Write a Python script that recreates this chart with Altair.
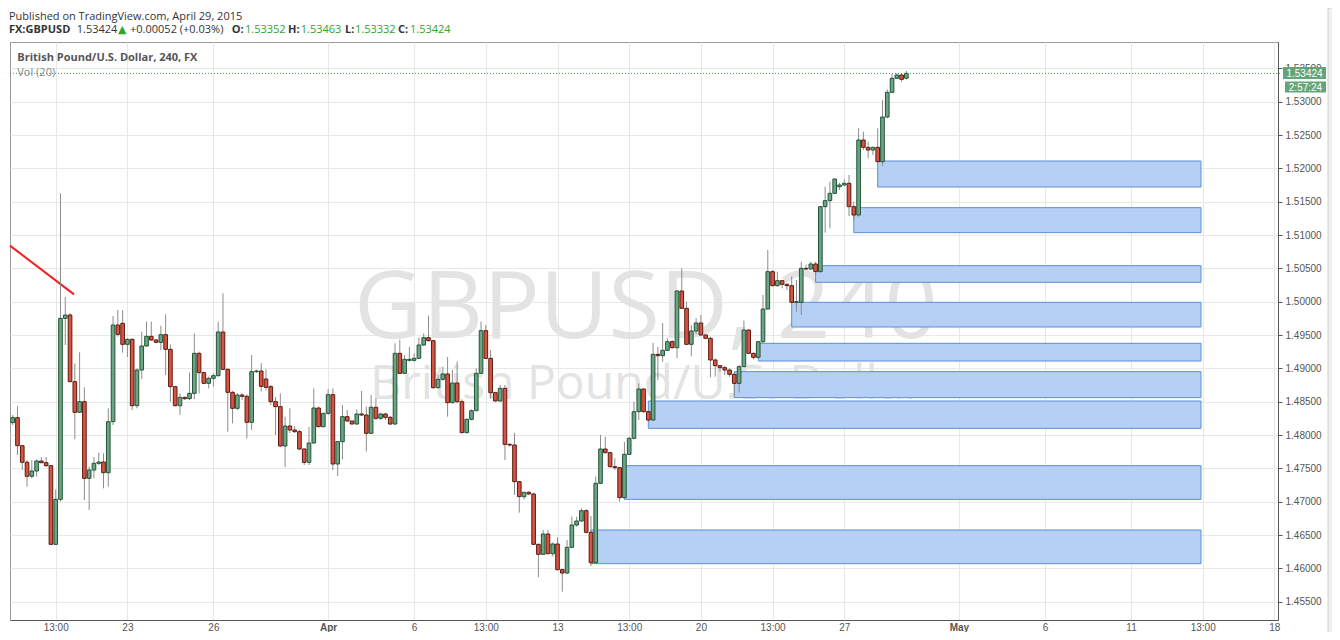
import altair as alt
import pandas as pd

# ---- 4h OHLC bars, GBPUSD (bar index 0 = first bar on chart) ----
opens = [
    1.48185, 1.48260, 1.47840, 1.47591, 1.47381, 1.47460, 1.47610, 1.47585, 1.47540, 1.46360,
    1.47035, 1.49750, 1.49800, 1.48800, 1.48340, 1.48500, 1.47350, 1.47475, 1.47575, 1.47595,
    1.47435, 1.48200, 1.49650, 1.49675, 1.49360, 1.49435, 1.48440, 1.48975, 1.49335, 1.49480,
    1.49425, 1.49390, 1.49505, 1.49285, 1.48725, 1.48440, 1.48565, 1.48545, 1.48625, 1.49225,
    1.48935, 1.48775, 1.48850, 1.48890, 1.49545, 1.48985, 1.48640, 1.48400, 1.48600, 1.48580,
    1.48190, 1.48950, 1.48960, 1.48840, 1.48725, 1.48500, 1.48425, 1.47835, 1.48135, 1.48075,
    1.48050, 1.47790, 1.47590, 1.47880, 1.48405, 1.48125, 1.48325, 1.48605, 1.47565, 1.47900,
    1.48275, 1.48210, 1.48165, 1.48315, 1.48300, 1.48025, 1.48415, 1.48250, 1.48315, 1.48265,
    1.48165, 1.49225, 1.48925, 1.49120, 1.49120, 1.49150, 1.49350, 1.49460, 1.49415, 1.48710,
    1.48835, 1.48915, 1.48485, 1.48780, 1.48500, 1.48035, 1.48235, 1.48365, 1.48925, 1.49565,
    1.49150, 1.48635, 1.48510, 1.48700, 1.47860, 1.47850, 1.47300, 1.47075, 1.47140, 1.47115,
    1.46360, 1.46210, 1.46515, 1.46220, 1.46365, 1.45980, 1.45930, 1.46315, 1.46650, 1.46710,
    1.46865, 1.46540, 1.46085, 1.47275, 1.47790, 1.47735, 1.47525, 1.47510, 1.47060, 1.47710,
    1.47950, 1.48350, 1.48690, 1.48350, 1.48225, 1.49210, 1.49190, 1.49270, 1.49400, 1.49310,
    1.50160, 1.49900, 1.49360, 1.49560, 1.49680, 1.49500, 1.49450, 1.49125, 1.49040, 1.49010,
    1.48975, 1.48910, 1.48775, 1.49025, 1.49575, 1.49225, 1.49165, 1.49400, 1.49890, 1.50450,
    1.50240, 1.50315, 1.50260, 1.50240, 1.49990, 1.49990, 1.50500, 1.50490, 1.50565, 1.50450,
    1.51425, 1.51515, 1.51625, 1.51725, 1.51750, 1.51775, 1.51425, 1.51300, 1.52425, 1.52315,
    1.52275, 1.52315, 1.52100, 1.52770, 1.53140, 1.53350, 1.53400, 1.53352,
]
highs = [
    1.48300, 1.48435, 1.47850, 1.47625, 1.47625, 1.47635, 1.47670, 1.47670, 1.47550, 1.47185,
    1.51625, 1.50070, 1.49830, 1.49075, 1.49240, 1.48715, 1.47525, 1.47670, 1.47735, 1.47725,
    1.48400, 1.49785, 1.49875, 1.49875, 1.49450, 1.49450, 1.49000, 1.49550, 1.49700, 1.49700,
    1.49440, 1.49640, 1.49810, 1.49360, 1.48735, 1.48625, 1.48575, 1.48940, 1.49525, 1.49250,
    1.48950, 1.48875, 1.48925, 1.49700, 1.50125, 1.49000, 1.48660, 1.48630, 1.48625, 1.48610,
    1.49200, 1.48980, 1.49080, 1.48985, 1.48750, 1.48570, 1.48625, 1.48275, 1.48400, 1.48135,
    1.48080, 1.47800, 1.48120, 1.48700, 1.48425, 1.48330, 1.48690, 1.48700, 1.47910, 1.48450,
    1.48375, 1.48210, 1.48385, 1.48660, 1.48425, 1.48600, 1.48550, 1.48335, 1.48335, 1.48285,
    1.49375, 1.49430, 1.49200, 1.49320, 1.49225, 1.49465, 1.49525, 1.49790, 1.49425, 1.48900,
    1.49025, 1.49170, 1.48975, 1.49100, 1.48535, 1.48250, 1.48385, 1.49000, 1.49700, 1.49650,
    1.49275, 1.48650, 1.48750, 1.48750, 1.47875, 1.48030, 1.47310, 1.47150, 1.47160, 1.47135,
    1.46370, 1.46575, 1.46575, 1.46390, 1.46465, 1.45995, 1.46425, 1.46775, 1.46775, 1.46900,
    1.46885, 1.46785, 1.47375, 1.48000, 1.47975, 1.47750, 1.47650, 1.47525, 1.47900, 1.47975,
    1.48500, 1.48775, 1.48700, 1.48365, 1.49380, 1.49325, 1.49680, 1.49450, 1.49425, 1.50175,
    1.50500, 1.50000, 1.49650, 1.49755, 1.49800, 1.49510, 1.49475, 1.49150, 1.49050, 1.49035,
    1.49000, 1.48925, 1.49050, 1.49715, 1.49585, 1.49235, 1.49405, 1.50100, 1.50775, 1.50475,
    1.50450, 1.50325, 1.50275, 1.50375, 1.50325, 1.50600, 1.50555, 1.50600, 1.50600, 1.51435,
    1.51725, 1.51800, 1.51850, 1.51785, 1.51835, 1.51900, 1.51500, 1.52600, 1.52550, 1.52400,
    1.52325, 1.52600, 1.53025, 1.53185, 1.53415, 1.53425, 1.53425, 1.53463,
]
lows = [
    1.48150, 1.47700, 1.47475, 1.47225, 1.47350, 1.47375, 1.47575, 1.47520, 1.46350, 1.46350,
    1.47000, 1.49350, 1.48790, 1.47935, 1.48330, 1.47025, 1.46875, 1.47350, 1.47550, 1.47200,
    1.47225, 1.48150, 1.49475, 1.49235, 1.49170, 1.48375, 1.48400, 1.48840, 1.49325, 1.49410,
    1.49375, 1.49275, 1.48900, 1.48500, 1.48425, 1.48300, 1.48525, 1.48525, 1.48535, 1.48625,
    1.48765, 1.48700, 1.48725, 1.48875, 1.48975, 1.48050, 1.48175, 1.48375, 1.48525, 1.47950,
    1.48075, 1.48930, 1.48650, 1.48670, 1.48450, 1.48000, 1.47825, 1.47520, 1.48030, 1.48030,
    1.47775, 1.47550, 1.47550, 1.47870, 1.48115, 1.48115, 1.48300, 1.47475, 1.47385, 1.47635,
    1.48200, 1.48160, 1.48155, 1.48285, 1.47750, 1.48015, 1.48225, 1.48225, 1.48225, 1.48150,
    1.48150, 1.48915, 1.48915, 1.49100, 1.49100, 1.49140, 1.49340, 1.49400, 1.48695, 1.48700,
    1.48815, 1.48275, 1.48475, 1.48475, 1.48025, 1.48025, 1.48220, 1.48360, 1.48915, 1.49140,
    1.48550, 1.48500, 1.48500, 1.47625, 1.47825, 1.47100, 1.46835, 1.47035, 1.47100, 1.46350,
    1.45865, 1.46200, 1.46210, 1.46180, 1.45970, 1.45650, 1.45915, 1.46300, 1.46625, 1.46700,
    1.46525, 1.46035, 1.46075, 1.47265, 1.47725, 1.47510, 1.47475, 1.47000, 1.47035, 1.47700,
    1.47935, 1.48225, 1.48335, 1.48200, 1.48215, 1.48825, 1.49100, 1.49260, 1.49295, 1.49150,
    1.49890, 1.49350, 1.49180, 1.49510, 1.49490, 1.49440, 1.48865, 1.48875, 1.48950, 1.48900,
    1.48875, 1.48590, 1.48635, 1.49020, 1.49215, 1.49135, 1.49150, 1.49380, 1.49880, 1.50225,
    1.50225, 1.50200, 1.50175, 1.49975, 1.49850, 1.49800, 1.50475, 1.50475, 1.50440, 1.50440,
    1.51035, 1.51100, 1.51610, 1.51675, 1.51735, 1.51285, 1.51235, 1.51275, 1.52275, 1.52150,
    1.52200, 1.52085, 1.52035, 1.52750, 1.53125, 1.53340, 1.53300, 1.53332,
]
closes = [
    1.48260, 1.47840, 1.47591, 1.47381, 1.47460, 1.47610, 1.47585, 1.47540, 1.46360, 1.47035,
    1.49750, 1.49800, 1.48800, 1.48340, 1.48500, 1.47350, 1.47475, 1.47575, 1.47595, 1.47435,
    1.48200, 1.49650, 1.49510, 1.49360, 1.49435, 1.48440, 1.48975, 1.49335, 1.49480, 1.49425,
    1.49390, 1.49505, 1.49285, 1.48725, 1.48440, 1.48565, 1.48545, 1.48625, 1.49225, 1.48935,
    1.48775, 1.48850, 1.48890, 1.49545, 1.48985, 1.48640, 1.48400, 1.48600, 1.48580, 1.48190,
    1.48950, 1.48960, 1.48730, 1.48715, 1.48500, 1.48425, 1.47835, 1.48135, 1.48075, 1.48050,
    1.47790, 1.47590, 1.47880, 1.48405, 1.48125, 1.48325, 1.48605, 1.47565, 1.47900, 1.48275,
    1.48210, 1.48165, 1.48315, 1.48300, 1.48025, 1.48415, 1.48250, 1.48315, 1.48265, 1.48165,
    1.49225, 1.48925, 1.49135, 1.49135, 1.49150, 1.49350, 1.49460, 1.49415, 1.48710, 1.48835,
    1.48915, 1.48485, 1.48780, 1.48500, 1.48035, 1.48235, 1.48365, 1.48925, 1.49565, 1.49150,
    1.48635, 1.48510, 1.48700, 1.47860, 1.47850, 1.47300, 1.47075, 1.47140, 1.47115, 1.46360,
    1.46210, 1.46515, 1.46220, 1.46365, 1.45980, 1.45930, 1.46315, 1.46650, 1.46710, 1.46865,
    1.46540, 1.46085, 1.47275, 1.47790, 1.47735, 1.47525, 1.47510, 1.47060, 1.47710, 1.47950,
    1.48350, 1.48690, 1.48350, 1.48225, 1.49210, 1.49190, 1.49270, 1.49400, 1.49310, 1.50160,
    1.49900, 1.49360, 1.49560, 1.49680, 1.49500, 1.49450, 1.49125, 1.49040, 1.49010, 1.48975,
    1.48910, 1.48775, 1.49025, 1.49575, 1.49225, 1.49165, 1.49400, 1.49890, 1.50450, 1.50240,
    1.50315, 1.50260, 1.50240, 1.49990, 1.50000, 1.50500, 1.50490, 1.50565, 1.50450, 1.51425,
    1.51515, 1.51625, 1.51840, 1.51750, 1.51775, 1.51425, 1.51300, 1.52425, 1.52315, 1.52275,
    1.52315, 1.52100, 1.52770, 1.53140, 1.53350, 1.53400, 1.53335, 1.53424,
]

# time axis: bar index of each label
tick_pos = [9, 24, 42, 66, 84, 99, 114, 129, 144, 159, 174, 198, 216, 234, 249, 264]
tick_lab = ["13:00", "23", "26", "Apr", "6", "13:00", "13", "13:00", "20", "13:00",
            "27", "May", "6", "11", "13:00", "18"]
price_ticks = [1.455, 1.460, 1.465, 1.470, 1.475, 1.480, 1.485, 1.490, 1.495,
               1.500, 1.505, 1.510, 1.515, 1.520, 1.525, 1.530, 1.535]

# demand-zone rectangles (bar index start/end, price top/bottom)
box_start = [181, 176, 168, 163, 156, 151, 133, 128, 121]
box_end = [248.65, 248.65, 248.65, 248.65, 248.65, 248.65, 248.65, 248.65, 248.65]
box_top = [1.5211, 1.5141, 1.5054, 1.4999, 1.49375, 1.4895, 1.4851, 1.4754, 1.46575]
box_bottom = [1.5172, 1.51035, 1.5029, 1.4962, 1.4911, 1.4856, 1.4810, 1.47035, 1.4607]

# red trend line
trend_k = [-0.565, 12.83]
trend_p = [1.5084, 1.5011]

symbol = "FX:GBPUSD"
change_txt = "+0.00052 (+0.03%)"
countdown = "2:57:24"

# ---------------- build ----------------
n = len(opens)
df = pd.DataFrame({"k": list(range(n)), "open": opens, "high": highs,
                   "low": lows, "close": closes})
df["dir"] = ["up" if c >= o else "down" for o, c in zip(opens, closes)]
df["kl"] = df["k"] - 0.38
df["kr"] = df["k"] + 0.38

box_df = pd.DataFrame({"x1": box_start, "x2": box_end, "top": box_top, "bottom": box_bottom})
trend_df = pd.DataFrame({"k": trend_k, "p": trend_p})
last_df = pd.DataFrame({"p": [closes[-1]]})

xs = alt.Scale(domain=[-0.565, 264.76], nice=False, zero=False)
ys = alt.Scale(domain=[1.45225, 1.53895], nice=False, zero=False)

lab_expr = ("[" + ",".join("'%s'" % s for s in tick_lab) + "][indexof(["
            + ",".join(str(v) for v in tick_pos) + "], datum.value)]")
bold_test = " || ".join("datum.value == %d" % p for p, l in zip(tick_pos, tick_lab)
                        if l in ("Apr", "May"))

x_axis = alt.Axis(values=tick_pos, labelExpr=lab_expr, grid=True, gridColor="#e8e8e8",
                  tickSize=0, labelPadding=2, domainColor="#555555", labelColor="#555555",
                  labelFontSize=10, labelFont="Liberation Sans", labelFlush=False,
                  labelOverlap=False, title=None,
                  labelFontWeight={"condition": {"test": bold_test, "value": "bold"},
                                   "value": "normal"})
y_axis = alt.Axis(orient="right", values=price_ticks, format=".5f", grid=True,
                  gridColor="#e8e8e8", tickSize=4, tickColor="#555555",
                  domainColor="#555555", labelColor="#555555", labelFontSize=10,
                  labelFont="Liberation Sans", labelPadding=3, labelOverlap=False,
                  labelFlush=False, title=None)


def X(f):
    return alt.X(f, type="quantitative", scale=xs, axis=x_axis)


def Y(f):
    return alt.Y(f, type="quantitative", scale=ys, axis=y_axis)


def txt(s, x, y, color="#333333", weight="normal", size=11, font="Open Sans",
        align="left"):
    return alt.Chart(pd.DataFrame({"t": [s]})).mark_text(
        align=align, baseline="alphabetic", font=font, fontSize=size,
        fontWeight=weight, color=color
    ).encode(x=alt.value(x), y=alt.value(y), text="t:N")


wm1 = txt("GBPUSD, 240", 636, 296, color="#e3e3e3", size=94, align="center")
wm2 = txt("British Pound/U.S. Dollar", 637, 357, color="#e3e3e3", size=48, align="center")

strip = alt.Chart(last_df).mark_rect(fill="#eef0f3", stroke="#cfd2d6", strokeWidth=1).encode(
    x=alt.value(1318), x2=alt.value(1326), y=alt.value(-34), y2=alt.value(600))

boxes = alt.Chart(box_df).mark_rect(fill="#b6cff4", stroke="#5b8fd8", strokeWidth=1).encode(
    x=X("x1"), x2="x2", y=Y("top"), y2="bottom")

trend = alt.Chart(trend_df).mark_line(color="#f22020", strokeWidth=2).encode(
    x=X("k"), y=Y("p"))

wicks = alt.Chart(df).mark_rule(color="#8c8c8c", strokeWidth=1).encode(
    x=X("k"), y=Y("low"), y2="high")

bodies = alt.Chart(df).mark_rect(strokeWidth=1).encode(
    x=X("kl"), x2="kr", y=Y("open"), y2="close",
    fill=alt.Fill("dir:N", scale=alt.Scale(domain=["up", "down"],
                                           range=["#6ba583", "#d75442"]), legend=None),
    stroke=alt.Stroke("dir:N", scale=alt.Scale(domain=["up", "down"],
                                               range=["#225437", "#5b1a13"]), legend=None),
)

last_line = alt.Chart(last_df).mark_rule(color="#3f9e60", strokeDash=[1, 2], strokeWidth=1).encode(
    x=alt.value(0), x2=alt.value(1272), y=Y("p"))

tag1 = alt.Chart(last_df).mark_rect(color="#62a677").encode(
    x=alt.value(1273), x2=alt.value(1316), y=alt.value(25), y2=alt.value(37))
tag2 = alt.Chart(last_df).mark_rect(color="#62a677").encode(
    x=alt.value(1275), x2=alt.value(1316), y=alt.value(39.5), y2=alt.value(50.5))
tag1_t = txt("%.5f" % closes[-1], 1294.5, 35, color="white", size=10,
             font="Liberation Sans", align="center")
tag2_t = txt(countdown, 1295.5, 49, color="white", size=10,
             font="Liberation Sans", align="center")

green = "#2ea52e"
hdr = [
    txt("Published on TradingView.com, April 29, 2015", -1, -22.5, size=11),
    txt(symbol, -1, -9, weight="bold"),
    txt("%.5f" % closes[-1], 66.7, -9),
    txt("\u25B2", 108, -9, color=green, font="DejaVu Sans", size=11),
    txt(change_txt, 120, -9),
    txt("O:", 221.7, -9, weight="bold"),
    txt("%.5f" % opens[-1], 235, -9, color=green),
    txt("H:", 278, -9, weight="bold"),
    txt("%.5f" % highs[-1], 290.7, -9, color=green),
    txt("L:", 335, -9, weight="bold"),
    txt("%.5f" % lows[-1], 345, -9, color=green),
    txt("C:", 388, -9, weight="bold"),
    txt("%.5f" % closes[-1], 400, -9, color=green),
    txt("British Pound/U.S. Dollar, 240, FX", 7.3, 19, color="#555555", weight="bold"),
    txt("Vol (20)", 7.3, 34, color="#888888"),
]

chart = alt.layer(
    strip, wm1, wm2, boxes, trend, wicks, bodies, last_line, tag1, tag2, tag1_t, tag2_t, *hdr
).properties(
    width=1268, height=578,
    autosize=alt.AutoSizeParams(type="none"),
    padding={"left": 2, "top": 34, "right": 54, "bottom": 12},
    background="white",
).configure_view(stroke="#9a9a9a", strokeWidth=1)

chart.save("out.html", embed_options={"renderer": "svg", "actions": False})
